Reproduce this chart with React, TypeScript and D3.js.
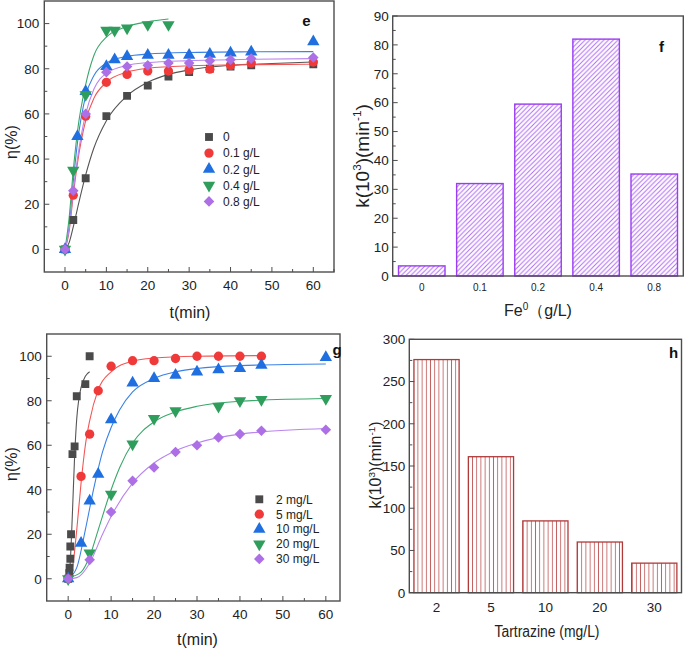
import React from "react";
import * as d3 from "d3";

const FONT = "'Liberation Sans', Arial, Helvetica, sans-serif";

// ---------- Panel e data (Fe0 dosage) ----------
const eNames = ["0", "0.1 g/L", "0.2 g/L", "0.4 g/L", "0.8 g/L"];
const eT0 = [0, 2, 5, 10, 15, 20, 25, 30, 35, 40, 45, 60];
const eV0 = [0, 13, 31.5, 59, 68, 72.5, 76.5, 78.5, 80, 81, 81.5, 82];
const eT1 = [0, 2, 5, 10, 15, 20, 25, 30, 35, 40, 45, 60];
const eV1 = [0, 24, 59, 74, 77.5, 79, 79, 79.5, 79.8, 81.5, 82.5, 83];
const eT2 = [0, 3, 5, 10, 12, 15, 20, 25, 30, 35, 40, 45, 60];
const eV2 = [0, 50, 70, 81, 84, 85.5, 86, 86, 86, 86.5, 87, 87.5, 92];
const eT4 = [0, 2, 5, 10, 12, 15, 20, 25];
const eV4 = [0, 35, 68.5, 97, 97, 98, 99.5, 99.5];
const eT8 = [0, 2, 5, 10, 15, 20, 25, 30, 35, 40, 45, 60];
const eV8 = [0, 26, 60, 78.5, 81, 81.5, 82.5, 82.5, 83.5, 84, 84.5, 85];
// fitted curves
const eFitT0 = [0, 1, 2, 3, 5, 7, 10, 15, 20, 25, 30, 40, 50, 60];
const eFitV0 = [0, 3, 10, 18, 33, 45, 57, 68, 74, 77.5, 79.5, 81.5, 82.3, 83];
const eFitT1 = [0, 1, 2, 3, 5, 7, 10, 15, 20, 30, 45, 60];
const eFitV1 = [0, 8, 24, 38, 57, 67, 74, 78.5, 80.2, 81.3, 81.8, 82];
const eFitT2 = [0, 1, 2, 3, 5, 7, 10, 15, 20, 30, 45, 60];
const eFitV2 = [0, 10, 30, 47, 68, 77, 82.5, 85.5, 86.5, 87.2, 87.5, 87.6];
const eFitT4 = [0, 1, 2, 3, 5, 7, 10, 15, 20, 25];
const eFitV4 = [0, 14, 35, 52, 73, 86, 94, 98.7, 100.8, 102];
const eFitT8 = [0, 1, 2, 3, 5, 7, 10, 15, 20, 30, 45, 60];
const eFitV8 = [0, 9, 26, 40, 60, 71, 78, 81.5, 82.7, 83.6, 84.2, 84.5];

// ---------- Panel g data (tartrazine concentration) ----------
const gNames = ["2 mg/L", "5 mg/L", "10 mg/L", "20 mg/L", "30 mg/L"];
const gT2 = [0, 0.25, 0.33, 0.5, 0.5, 0.67, 1, 1.5, 2, 4, 5];
const gV2 = [0, 2.5, 5, 9, 14.5, 20, 56, 59.5, 82, 87.5, 100];
const gT5 = [0, 3, 5, 7, 10, 15, 20, 25, 30, 35, 40, 45];
const gV5 = [0, 46, 65, 84.5, 95.5, 98, 98, 99, 100, 100, 100, 100];
const gT10 = [0, 3, 5, 7, 10, 15, 20, 25, 30, 35, 40, 45, 60];
const gV10 = [0, 16, 35, 47, 71.5, 88, 90, 91.5, 93, 94, 94.5, 96, 99.5];
const gT20 = [0, 5, 10, 15, 20, 25, 35, 40, 45, 60];
const gV20 = [0, 11.5, 38, 60.5, 72, 75.5, 77.5, 80, 80.5, 81];
const gT30 = [0, 5, 10, 15, 20, 25, 30, 35, 40, 45, 60];
const gV30 = [0, 8.5, 30, 44, 50, 57, 60, 63.5, 65, 66.5, 67];
const gFitT2 = [0, 0.5, 1, 1.5, 2, 2.5, 3, 4, 5];
const gFitV2 = [0, 8, 30, 55, 72, 81, 86, 91, 93];
const gFitT5 = [0, 1, 2, 3, 4, 5, 7, 10, 15, 20, 30, 45];
const gFitV5 = [0, 5, 22, 43, 60, 71, 85, 93, 97.8, 99.2, 100, 100.3];
const gFitT10 = [0, 2, 4, 6, 8, 10, 12, 15, 20, 25, 30, 40, 60];
const gFitV10 = [0, 5, 22, 41, 57, 68, 76, 84, 90, 93, 94.5, 95.8, 96.5];
const gFitT20 = [0, 3, 5, 7, 10, 12, 15, 20, 25, 30, 40, 60];
const gFitV20 = [0.5, 3, 10, 22, 40, 50, 61, 70.5, 75, 77.5, 79.8, 81];
const gFitT30 = [0, 2, 5, 8, 10, 15, 20, 25, 30, 40, 60];
const gFitV30 = [0, 0.5, 7, 20, 28, 43, 52, 57.5, 61, 65, 67.5];

// ---------- Panel f (rate constants vs Fe0) ----------
const fCats = ["0", "0.1", "0.2", "0.4", "0.8"];
const fVals = [3.5, 32, 59.5, 82, 35.3];
// ---------- Panel h (rate constants vs tartrazine) ----------
const hCats = ["2", "5", "10", "20", "30"];
const hVals = [276, 161, 85, 60, 35];

// tick labels
const lineXTicks = [0, 10, 20, 30, 40, 50, 60];
const lineYTicks = [0, 20, 40, 60, 80, 100];
const fYTicks = [0, 10, 20, 30, 40, 50, 60, 70, 80, 90];
const hYTicks = [0, 50, 100, 150, 200, 250, 300];

const COLORS = ["#4a4a4a", "#f03a3a", "#1f6fe0", "#2f9e5c", "#ad6fe6"];
const LINE_COLORS = ["#555555", "#f35555", "#3a82e6", "#3aa86a", "#b985ee"];
const SHAPES = ["square", "circle", "up", "down", "diamond"];

const zip = (t: number[], v: number[]) => t.map((x, i) => [x, v[i]] as [number, number]);

function Marker({ shape, x, y, color }: { shape: string; x: number; y: number; color: string }) {
  let d = "";
  let rot = 0;
  if (shape === "square") d = d3.symbol(d3.symbolSquare, 62)() as string;
  else if (shape === "circle") d = d3.symbol(d3.symbolCircle, 68)() as string;
  else if (shape === "up") d = d3.symbol(d3.symbolTriangle, 66)() as string;
  else if (shape === "down") { d = d3.symbol(d3.symbolTriangle, 66)() as string; rot = 180; }
  else { d = d3.symbol(d3.symbolSquare, 56)() as string; rot = 45; }
  return <path d={d} transform={`translate(${x},${y}) rotate(${rot})`} fill={color} />;
}

type Series = { t: number[]; v: number[]; ft: number[]; fv: number[] };

function LinePanel(props: {
  frame: { l: number; r: number; t: number; b: number };
  xDomain: [number, number];
  series: Series[];
  names: string[];
  legend: { mx: number; tx: number; y0: number; dy: number };
  label: { text: string; x: number; y: number };
  xTitle: { x: number; y: number };
  yTitle: { x: number; y: number };
  clipId: string;
}) {
  const { frame, series, names, legend, label, xTitle, yTitle } = props;
  const x = d3.scaleLinear().domain(props.xDomain).range([frame.l, frame.r]);
  const y = d3.scaleLinear().domain([-10, 110]).range([frame.b, frame.t]);
  const line = d3
    .line<[number, number]>()
    .x((d) => x(d[0]))
    .y((d) => y(d[1]))
    .curve(d3.curveMonotoneX);
  const xMinor = d3.range(props.xDomain[0], props.xDomain[1] + 0.01, 5).filter((v) => v > props.xDomain[0]);
  const yMinor = d3.range(-10, 111, 10).filter((v) => v > -10 && v < 110);
  const ax = "#4d4d4d";
  return (
    <g>
      <defs>
        <clipPath id={props.clipId}>
          <rect x={frame.l} y={frame.t} width={frame.r - frame.l} height={frame.b - frame.t} />
        </clipPath>
      </defs>
      <g clipPath={`url(#${props.clipId})`}>
        {series.map((s, i) => (
          <path key={"f" + i} d={line(zip(s.ft, s.fv)) as string} fill="none" stroke={LINE_COLORS[i]} strokeWidth={1.1} />
        ))}
        {series.map((s, i) =>
          s.t.map((tv, j) => <Marker key={`m${i}-${j}`} shape={SHAPES[i]} x={x(tv)} y={y(s.v[j])} color={COLORS[i]} />)
        )}
      </g>
      <rect x={frame.l} y={frame.t} width={frame.r - frame.l} height={frame.b - frame.t} fill="none" stroke={ax} strokeWidth={1.4} />
      {xMinor.map((v) => (
        <line key={"xt" + v} x1={x(v)} x2={x(v)} y1={frame.b} y2={frame.b - (v % 10 === 0 ? 5 : 3)} stroke={ax} strokeWidth={1} />
      ))}
      {yMinor.map((v) => (
        <line key={"yt" + v} x1={frame.l} x2={frame.l + (v % 20 === 0 ? 5 : 3)} y1={y(v)} y2={y(v)} stroke={ax} strokeWidth={1} />
      ))}
      {lineXTicks.map((v) => (
        <text key={"xl" + v} x={x(v)} y={frame.b + 18} textAnchor="middle" fontSize={13.5} fontFamily={FONT} fill="#222">
          {v}
        </text>
      ))}
      {lineYTicks.map((v) => (
        <text key={"yl" + v} x={frame.l - 5} y={y(v) + 4.8} textAnchor="end" fontSize={13.5} fontFamily={FONT} fill="#222">
          {v}
        </text>
      ))}
      <text x={xTitle.x} y={xTitle.y} textAnchor="middle" fontSize={16} fontFamily={FONT} fill="#222">
        t(min)
      </text>
      <text transform={`translate(${yTitle.x},${yTitle.y}) rotate(-90)`} textAnchor="middle" fontSize={16} fontFamily={FONT} fill="#222">
        η(%)
      </text>
      <text x={label.x} y={label.y} textAnchor="middle" fontSize={15} fontWeight="bold" fontFamily={FONT} fill="#111">
        {label.text}
      </text>
      {names.map((n, i) => (
        <g key={"lg" + i}>
          <Marker shape={SHAPES[i]} x={legend.mx} y={legend.y0 + i * legend.dy} color={COLORS[i]} />
          <text x={legend.tx} y={legend.y0 + i * legend.dy + 4.3} fontSize={12} fontFamily={FONT} fill="#222">
            {n}
          </text>
        </g>
      ))}
    </g>
  );
}

function KTitle({ x, y, size }: { x: number; y: number; size: number }) {
  const s = size * 0.62;
  const up = -size * 0.4;
  return (
    <text transform={`translate(${x},${y}) rotate(-90)`} textAnchor="middle" fontSize={size} fontFamily={FONT} fill="#222">
      k(10
      <tspan dy={up} fontSize={s}>3</tspan>
      <tspan dy={-up}>)(min</tspan>
      <tspan dy={up} fontSize={s}>-1</tspan>
      <tspan dy={-up}>)</tspan>
    </text>
  );
}

export default function App() {
  const eSeries: Series[] = [
    { t: eT0, v: eV0, ft: eFitT0, fv: eFitV0 },
    { t: eT1, v: eV1, ft: eFitT1, fv: eFitV1 },
    { t: eT2, v: eV2, ft: eFitT2, fv: eFitV2 },
    { t: eT4, v: eV4, ft: eFitT4, fv: eFitV4 },
    { t: eT8, v: eV8, ft: eFitT8, fv: eFitV8 },
  ];
  const gSeries: Series[] = [
    { t: gT2, v: gV2, ft: gFitT2, fv: gFitV2 },
    { t: gT5, v: gV5, ft: gFitT5, fv: gFitV5 },
    { t: gT10, v: gV10, ft: gFitT10, fv: gFitV10 },
    { t: gT20, v: gV20, ft: gFitT20, fv: gFitV20 },
    { t: gT30, v: gV30, ft: gFitT30, fv: gFitV30 },
  ];

  const fFrame = { l: 392.7, r: 683.3, t: 16, b: 276 };
  const fx = d3.scaleBand<string>().domain(fCats).range([fFrame.l, fFrame.r]).paddingInner(0.2).paddingOuter(0.1);
  const fy = d3.scaleLinear().domain([0, 90]).range([fFrame.b, fFrame.t]);
  const hFrame = { l: 409.3, r: 681.5, t: 339.3, b: 592.7 };
  const hx = d3.scaleBand<string>().domain(hCats).range([hFrame.l, hFrame.r]).paddingInner(0.17).paddingOuter(0.085);
  const hy = d3.scaleLinear().domain([0, 300]).range([hFrame.b, hFrame.t]);
  const ax = "#4d4d4d";
  const fMinor = d3.range(5, 90, 10);
  const hMinor = d3.range(25, 300, 50);

  return (
    <svg width={685} height={649} style={{ position: "absolute", left: 0, top: 0, background: "#fff" }}>
      <defs>
        <pattern id="hatchF" patternUnits="userSpaceOnUse" width={4.7} height={4.7}>
          <path d="M-1,1 L1,-1 M0,4.7 L4.7,0 M3.7,5.7 L5.7,3.7" stroke="#b06cf5" strokeWidth={1} />
        </pattern>
        <pattern id="hatchH" patternUnits="userSpaceOnUse" width={4.2} height={4.2}>
          <path d="M2.1,0 L2.1,4.2" stroke="#c46262" strokeWidth={0.9} />
        </pattern>
      </defs>
      <rect x={0} y={0} width={685} height={649} fill="#fff" />

      <LinePanel
        frame={{ l: 44.3, r: 334, t: 1, b: 272 }}
        xDomain={[-5, 65]}
        series={eSeries}
        names={eNames}
        legend={{ mx: 209, tx: 223, y0: 137, dy: 16.1 }}
        label={{ text: "e", x: 306.5, y: 26 }}
        xTitle={{ x: 190, y: 318 }}
        yTitle={{ x: 17, y: 142 }}
        clipId="clipE"
      />
      <LinePanel
        frame={{ l: 46.7, r: 340, t: 334, b: 601 }}
        xDomain={[-5, 63.3]}
        series={gSeries}
        names={gNames}
        legend={{ mx: 259.3, tx: 276, y0: 499.3, dy: 14.9 }}
        label={{ text: "g", x: 337, y: 355 }}
        xTitle={{ x: 197.5, y: 645 }}
        yTitle={{ x: 17, y: 464 }}
        clipId="clipG"
      />

      {/* panel f */}
      <g>
        {fCats.map((c, i) => (
          <rect key={"fb" + c} x={fx(c)} y={fy(fVals[i])} width={fx.bandwidth()} height={fy(0) - fy(fVals[i])} fill="url(#hatchF)" stroke="#9b3cf2" strokeWidth={1.4} />
        ))}
        <rect x={fFrame.l} y={fFrame.t} width={fFrame.r - fFrame.l} height={fFrame.b - fFrame.t} fill="none" stroke={ax} strokeWidth={1.4} />
        {fYTicks.map((v) => (
          <g key={"fy" + v}>
            <line x1={fFrame.l} x2={fFrame.l + 5} y1={fy(v)} y2={fy(v)} stroke={ax} />
            <text x={fFrame.l - 4} y={fy(v) + 4.8} textAnchor="end" fontSize={13.5} fontFamily={FONT} fill="#222">
              {v}
            </text>
          </g>
        ))}
        {fMinor.map((v) => (
          <line key={"fm" + v} x1={fFrame.l} x2={fFrame.l + 3} y1={fy(v)} y2={fy(v)} stroke={ax} />
        ))}
        {fCats.map((c) => (
          <text key={"fx" + c} x={(fx(c) as number) + fx.bandwidth() / 2} y={291} textAnchor="middle" fontSize={10} fontFamily={FONT} fill="#222">
            {c}
          </text>
        ))}
        <text x={538} y={316} textAnchor="middle" fontSize={16} fontFamily={FONT} fill="#222">
          Fe
          <tspan dy={-6} fontSize={10}>0</tspan>
          <tspan dy={6}>（g/L)</tspan>
        </text>
        <KTitle x={369} y={156} size={19} />
        <text x={661.5} y={52} textAnchor="middle" fontSize={15} fontWeight="bold" fontFamily={FONT} fill="#111">
          f
        </text>
      </g>

      {/* panel h */}
      <g>
        {hCats.map((c, i) => (
          <rect key={"hb" + c} x={hx(c)} y={hy(hVals[i])} width={hx.bandwidth()} height={hy(0) - hy(hVals[i])} fill="url(#hatchH)" stroke="#b03a3a" strokeWidth={1.3} />
        ))}
        <rect x={hFrame.l} y={hFrame.t} width={hFrame.r - hFrame.l} height={hFrame.b - hFrame.t} fill="none" stroke={ax} strokeWidth={1.4} />
        {hYTicks.map((v) => (
          <g key={"hy" + v}>
            <line x1={hFrame.l} x2={hFrame.l + 5} y1={hy(v)} y2={hy(v)} stroke={ax} />
            <text x={hFrame.l - 4} y={hy(v) + 4.8} textAnchor="end" fontSize={13.5} fontFamily={FONT} fill="#222">
              {v}
            </text>
          </g>
        ))}
        {hMinor.map((v) => (
          <line key={"hm" + v} x1={hFrame.l} x2={hFrame.l + 3} y1={hy(v)} y2={hy(v)} stroke={ax} />
        ))}
        {hCats.map((c) => (
          <text key={"hx" + c} x={(hx(c) as number) + hx.bandwidth() / 2} y={611.5} textAnchor="middle" fontSize={13.5} fontFamily={FONT} fill="#222">
            {c}
          </text>
        ))}
        <text x={547} y={637} textAnchor="middle" fontSize={16} fontFamily={FONT} fill="#222" textLength={105} lengthAdjust="spacingAndGlyphs">
          Tartrazine (mg/L)
        </text>
        <KTitle x={381} y={465} size={16} />
        <text x={673.5} y={358} textAnchor="middle" fontSize={15} fontWeight="bold" fontFamily={FONT} fill="#111">
          h
        </text>
      </g>
    </svg>
  );
}
